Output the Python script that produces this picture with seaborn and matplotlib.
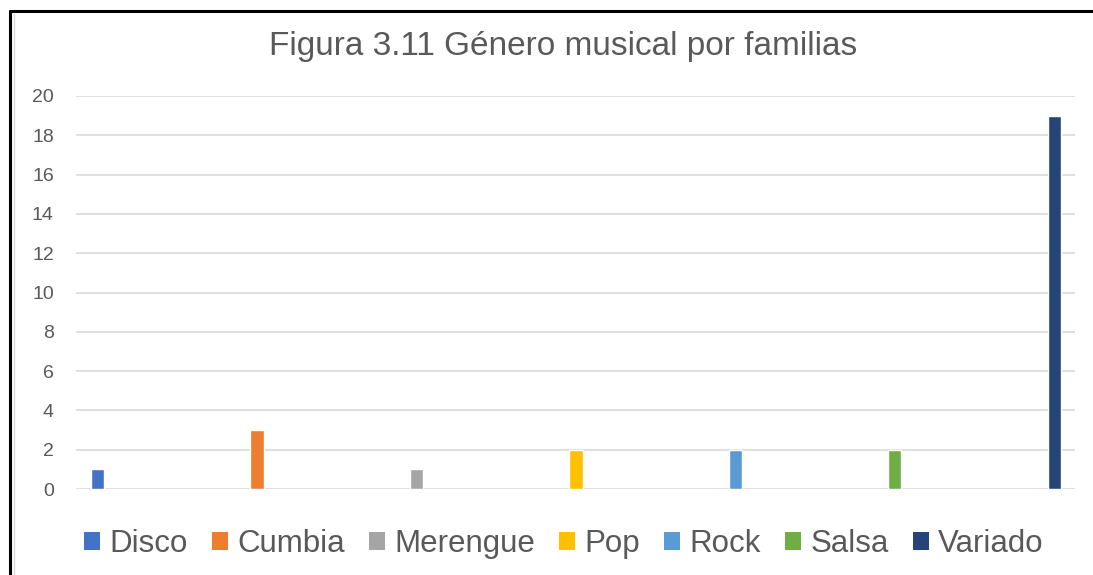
import numpy as np
import pandas as pd
import matplotlib
matplotlib.use("Agg")
import matplotlib.pyplot as plt
from matplotlib.lines import Line2D
from matplotlib.patches import Patch
import seaborn as sns

# datos
generos = ["Disco", "Cumbia", "Merengue", "Pop", "Rock", "Salsa", "Variado"]
familias = [1, 3, 1, 2, 2, 2, 19]
colores = ["#4472C4", "#ED7D31", "#A5A5A5", "#FFC000", "#5B9BD5", "#70AD47", "#264478"]
y_ticks = list(range(0, 21, 2))

sns.set_theme(style="white")
plt.rcParams['font.family'] = ['Liberation Sans', 'DejaVu Sans']

df = pd.DataFrame({"genero": generos, "n": familias})

fig = plt.figure(figsize=(10.93, 5.75), dpi=100)
ax = fig.add_axes([76 / 1093, 1 - 489 / 575, (1075 - 76) / 1093, (489 - 96) / 575])

sns.barplot(data=df, x="genero", y="n", hue="genero", palette=colores,
            width=0.082, dodge=False, legend=False, ax=ax, saturation=1)

ax.set_xlim(-0.135, 6.129)
ax.set_ylim(0, 20)
ax.set_yticks(y_ticks)
ax.set_yticklabels([str(t) for t in y_ticks], fontsize=14, color="#595959")
ax.tick_params(axis="y", length=0, pad=16)
ax.set_xticks([])
ax.set_xlabel("")
ax.set_ylabel("")
ax.yaxis.grid(True, color="#d9d9d9", linewidth=1.2)
ax.set_axisbelow(True)
for s in ax.spines.values():
    s.set_visible(False)

fig.text(563 / 1093, 1 - 46 / 575, "Figura 3.11 Género musical por familias",
         ha="center", va="center", fontsize=24, color="#595959")

handles = [Patch(facecolor=c, edgecolor="none") for c in colores]
fig.legend(handles, generos, loc="center", bbox_to_anchor=(564 / 1093, 1 - 544 / 575),
           ncol=7, frameon=False, fontsize=22.5, labelcolor="#595959",
           handlelength=0.5, handleheight=0.5, handletextpad=0.3, columnspacing=0.78)

# marco negro
fig.add_artist(Line2D([10 / 1093, 10 / 1093], [0, 1 - 11 / 575], color="black", linewidth=2.2,
                      transform=fig.transFigure))
fig.add_artist(Line2D([10 / 1093, 1], [1 - 11 / 575, 1 - 11 / 575], color="black", linewidth=2.2,
                      transform=fig.transFigure))
fig.add_artist(Line2D([14 / 1093, 14 / 1093], [0, 1 - 14 / 575], color="#d9d9d9", linewidth=1,
                      transform=fig.transFigure))

fig.savefig("out.png", dpi=100, facecolor="white")
